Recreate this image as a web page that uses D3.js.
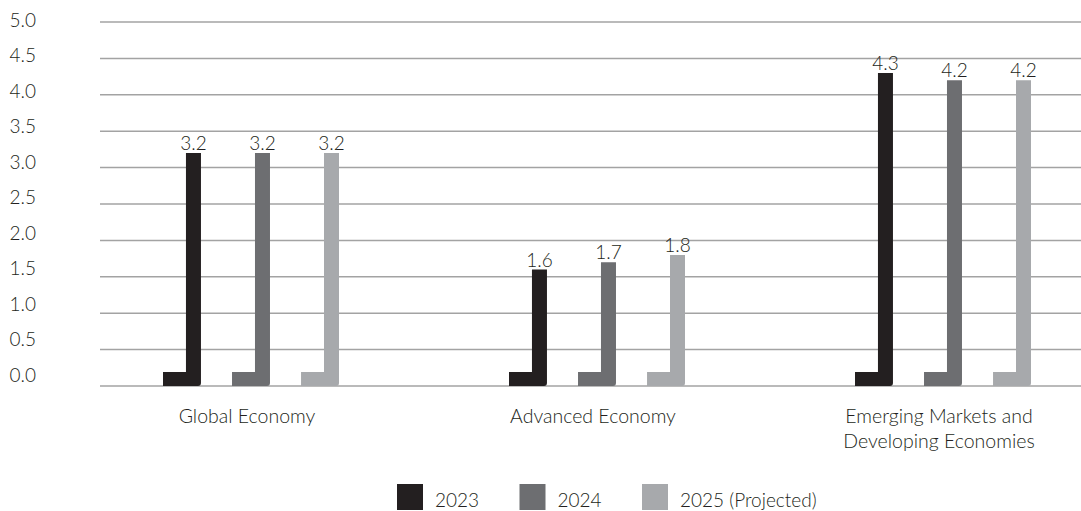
<!DOCTYPE html>
<html>
<head>
<meta charset="utf-8">
<script src="https://cdn.jsdelivr.net/npm/d3@7"></script>
<style>
    body { margin: 0; background: #fff; }
    svg { display: block; font-family: Lato, "DejaVu Sans", sans-serif; font-weight: 300; }
    .grid line { stroke: #a3a3a3; stroke-width: 1.5; }
    text { fill: #231f20; }
</style>
</head>
<body>
<div id="chart"></div>
<script>
// data
var categories = ["Global Economy", "Advanced Economy", "Emerging Markets and|Developing Economies"];
var years = ["2023", "2024", "2025 (Projected)"];
var growth2023 = [3.2, 1.6, 4.3];
var growth2024 = [3.2, 1.7, 4.2];
var growth2025 = [3.2, 1.8, 4.2];
var yTicks = [0, 0.5, 1, 1.5, 2, 2.5, 3, 3.5, 4, 4.5, 5];

var colors = ["#231f20", "#6d6e71", "#a7a9ac"];
var series = [growth2023, growth2024, growth2025];

var width = 1081,
    height = 511;

var svg = d3.select("#chart").append("svg")
    .attr("width", width)
    .attr("height", height);

var y = d3.scaleLinear().domain([0, 5]).range([386, 22]);
// tick labels sit a touch tighter than the gridlines in the original
var yLab = d3.scaleLinear().domain([0, 5]).range([375, 20]);

var x0 = d3.scaleBand().domain(categories).range([78, 1116]);
var x1 = d3.scaleBand().domain(years).range([-88, 88]).paddingInner(0.45);

var barW = 15,
    footH = 14,
    r = 3;

// gridlines
svg.append("g").attr("class", "grid")
    .selectAll("line")
    .data(yTicks)
    .enter().append("line")
    .attr("x1", 100)
    .attr("x2", width)
    .attr("y1", d => y(d))
    .attr("y2", d => y(d));

svg.append("g")
    .selectAll("text")
    .data(yTicks)
    .enter().append("text")
    .attr("x", 36)
    .attr("y", d => yLab(d))
    .attr("dy", "0.35em")
    .attr("text-anchor", "end")
    .style("font-size", "19px")
    .text(d => d.toFixed(1));

// bars: an L shape (foot + upright) per year
var rows = [];
categories.forEach((c, i) => {
    years.forEach((yr, j) => {
        rows.push({cat: c, year: yr, value: series[j][i], color: colors[j]});
    });
});

function lPath(d) {
    var left = x0(d.cat) + x0.bandwidth() / 2 + x1(d.year);
    var bx = left + x1.bandwidth() - barW;
    var right = bx + barW;
    var base = y(0);
    var top = y(d.value);
    return `M${left},${base - footH}L${bx},${base - footH}L${bx},${top}L${right},${top}` +
        `L${right},${base - r}Q${right},${base} ${right - r},${base}L${left},${base}Z`;
}

var bars = svg.append("g").attr("class", "bars")
    .selectAll("g")
    .data(rows)
    .enter().append("g");

bars.append("path")
    .attr("d", lPath)
    .attr("fill", d => d.color);

bars.append("text")
    .attr("x", d => x0(d.cat) + x0.bandwidth() / 2 + x1(d.year) + x1.bandwidth() - barW / 2)
    .attr("y", d => y(d.value) - 3)
    .attr("text-anchor", "middle")
    .style("font-size", "19px")
    .text(d => d.value.toFixed(1));

// category labels
svg.append("g")
    .selectAll("text")
    .data(categories)
    .enter().append("text")
    .attr("x", d => x0(d) + x0.bandwidth() / 2 - 4)
    .attr("y", 423)
    .attr("text-anchor", "middle")
    .style("font-size", "19.5px")
    .each(function(d) {
        var lines = d.split("|");
        d3.select(this).selectAll("tspan")
            .data(lines)
            .enter().append("tspan")
            .attr("x", x0(d) + x0.bandwidth() / 2 - 4)
            .attr("dy", (l, k) => k == 0 ? 0 : 25)
            .text(l => l);
    });

// legend
var legend = svg.append("g")
    .attr("transform", "translate(397,484)")
    .selectAll("g")
    .data(years)
    .enter().append("g")
    .attr("transform", (d, i) => `translate(${i * 122.5},0)`);

legend.append("rect")
    .attr("width", 26)
    .attr("height", 26)
    .attr("fill", (d, i) => colors[i]);

legend.append("text")
    .attr("x", 38)
    .attr("y", 23)
    .style("font-size", "19px")
    .text(d => d);
</script>
</body>
</html>
